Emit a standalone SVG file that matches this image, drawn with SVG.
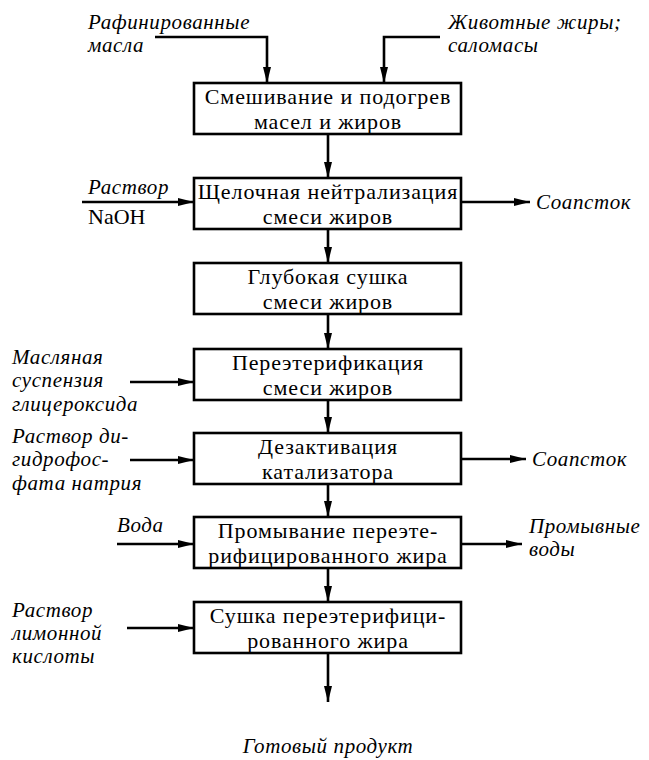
<svg xmlns="http://www.w3.org/2000/svg" width="649" height="760" viewBox="0 0 649 760">
  <style>
    .box { fill: #fff; stroke: #000; stroke-width: 2.6; }
    .step { font-family: "Liberation Serif", "Times New Roman", serif; font-size: 22px; letter-spacing: 0.9px; fill: #000; text-anchor: middle; }
    .lbl { font-family: "Liberation Serif", "Times New Roman", serif; font-size: 21px; letter-spacing: 0.6px; font-style: italic; fill: #000; }
    .chem { font-family: "Liberation Serif", "Times New Roman", serif; font-size: 22px; fill: #000; }
    .flow { fill: none; stroke: #000; stroke-width: 2.6; marker-end: url(#head); }
  </style>
  <defs>
    <marker id="head" viewBox="0 0 16 8" refX="16" refY="4" markerWidth="16" markerHeight="8" markerUnits="userSpaceOnUse" orient="auto">
      <path d="M0,0 L16,4 L0,8 Z" fill="#000"/>
    </marker>
  </defs>
  <rect width="649" height="760" fill="#fff"/>

  <!-- process flow lines -->
  <g id="connectors">
    <path class="flow" d="M155,37 H267 V83"/>
    <path class="flow" d="M440,37 H384 V83"/>
    <path class="flow" d="M328,134 V178"/>
    <path class="flow" d="M328,229 V263"/>
    <path class="flow" d="M328,314 V349"/>
    <path class="flow" d="M328,400 V433"/>
    <path class="flow" d="M328,484 V517"/>
    <path class="flow" d="M328,568 V602"/>
    <path class="flow" d="M328,653 V702"/>
    <path class="flow" d="M82,202 H194"/>
    <path class="flow" d="M130,382 H194"/>
    <path class="flow" d="M130,460 H194"/>
    <path class="flow" d="M117,544 H194"/>
    <path class="flow" d="M127,628 H194"/>
    <path class="flow" d="M461,202 H530"/>
    <path class="flow" d="M461,459 H526"/>
    <path class="flow" d="M461,544 H522"/>
  </g>

  <!-- process steps -->
  <g id="mixing">
    <rect class="box" x="194" y="83" width="267" height="51"/>
    <text class="step" x="328" y="104">Смешивание и подогрев</text>
    <text class="step" x="328" y="128.5">масел и жиров</text>
  </g>
  <g id="neutralization">
    <rect class="box" x="194" y="178" width="267" height="51"/>
    <text class="step" x="328" y="199">Щелочная нейтрализация</text>
    <text class="step" x="328" y="223.5">смеси жиров</text>
  </g>
  <g id="drying">
    <rect class="box" x="194" y="263" width="267" height="51"/>
    <text class="step" x="328" y="284">Глубокая сушка</text>
    <text class="step" x="328" y="308.5">смеси жиров</text>
  </g>
  <g id="interesterification">
    <rect class="box" x="194" y="349" width="267" height="51"/>
    <text class="step" x="328" y="370">Переэтерификация</text>
    <text class="step" x="328" y="394.5">смеси жиров</text>
  </g>
  <g id="deactivation">
    <rect class="box" x="194" y="433" width="267" height="51"/>
    <text class="step" x="328" y="454">Дезактивация</text>
    <text class="step" x="328" y="478.5">катализатора</text>
  </g>
  <g id="washing">
    <rect class="box" x="194" y="517" width="267" height="51"/>
    <text class="step" x="328" y="538">Промывание переэте-</text>
    <text class="step" x="328" y="562.5">рифицированного жира</text>
  </g>
  <g id="final-drying">
    <rect class="box" x="194" y="602" width="267" height="51"/>
    <text class="step" x="328" y="623">Сушка переэтерифици-</text>
    <text class="step" x="328" y="647.5">рованного жира</text>
  </g>

  <!-- inputs -->
  <g id="in-oils">
    <text class="lbl" x="88" y="28.5">Рафинированные</text>
    <text class="lbl" x="88" y="52">масла</text>
  </g>
  <g id="in-fats">
    <text class="lbl" x="448" y="28.5">Животные жиры;</text>
    <text class="lbl" x="448" y="52">саломасы</text>
  </g>
  <g id="in-naoh">
    <text class="lbl" x="88" y="194">Раствор</text>
    <text class="chem" x="88" y="224">NaOH</text>
  </g>
  <g id="in-glyceroxide">
    <text class="lbl" x="12" y="364">Масляная</text>
    <text class="lbl" x="12" y="387.3">суспензия</text>
    <text class="lbl" x="12" y="410.6">глицероксида</text>
  </g>
  <g id="in-phosphate">
    <text class="lbl" x="12" y="443">Раствор ди-</text>
    <text class="lbl" x="12" y="466.3">гидрофос-</text>
    <text class="lbl" x="12" y="489.6">фата натрия</text>
  </g>
  <g id="in-water">
    <text class="lbl" x="117" y="532">Вода</text>
  </g>
  <g id="in-citric">
    <text class="lbl" x="12" y="616.5">Раствор</text>
    <text class="lbl" x="12" y="639.8">лимонной</text>
    <text class="lbl" x="12" y="663.1">кислоты</text>
  </g>

  <!-- outputs -->
  <g id="out-soapstock-1">
    <text class="lbl" x="536" y="209">Соапсток</text>
  </g>
  <g id="out-soapstock-2">
    <text class="lbl" x="532" y="466">Соапсток</text>
  </g>
  <g id="out-washwater">
    <text class="lbl" x="529" y="533">Промывные</text>
    <text class="lbl" x="529" y="556.3">воды</text>
  </g>
  <g id="out-product">
    <text class="lbl" x="328" y="753" text-anchor="middle">Готовый продукт</text>
  </g>
</svg>
